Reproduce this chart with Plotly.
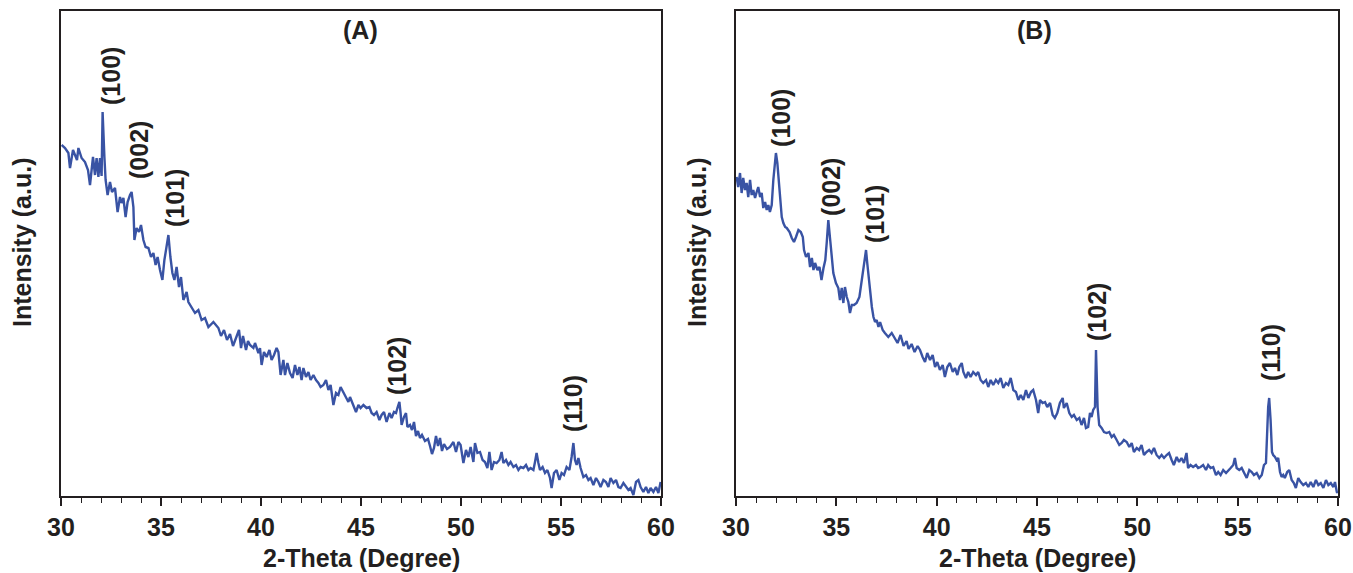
import plotly.graph_objects as go

# ---------------- Data (intensity in arbitrary units) ----------------
A_theta = [30.03, 30.2, 30.37, 30.45, 30.6, 30.8, 30.87, 31.03, 31.2, 31.35, 31.45, 31.6, 31.7, 31.78, 31.87, 31.95,
           32.03, 32.08, 32.17, 32.23, 32.33, 32.45, 32.55, 32.7, 32.83, 32.95, 33.03, 33.12, 33.23, 33.33, 33.45,
           33.53, 33.62, 33.67, 33.78, 33.9, 34.0, 34.12, 34.23, 34.37, 34.5, 34.62, 34.73, 34.83, 34.95, 35.07,
           35.17, 35.27, 35.37, 35.47, 35.57, 35.67, 35.78, 35.9, 36.0, 36.12, 36.28, 36.37, 36.53, 36.7, 36.87,
           37.03, 37.2, 37.37, 37.62, 37.87, 38.0, 38.15, 38.3, 38.45, 38.6, 38.75, 38.9, 39.0, 39.1, 39.25, 39.35,
           39.45, 39.62, 39.7, 39.87, 39.95, 40.03, 40.15, 40.28, 40.42, 40.53, 40.65, 40.78, 40.87, 40.98, 41.12,
           41.2, 41.32, 41.45, 41.58, 41.7, 41.82, 41.92, 42.03, 42.12, 42.25, 42.37, 42.48, 42.62, 42.75, 42.87,
           42.98, 43.12, 43.25, 43.37, 43.48, 43.62, 43.75, 43.87, 43.98, 44.12, 44.25, 44.37, 44.45, 44.62, 44.75,
           44.87, 44.98, 45.12, 45.28, 45.42, 45.53, 45.65, 45.78, 45.92, 46.03, 46.15, 46.28, 46.42, 46.53, 46.65,
           46.75, 46.82, 46.92, 46.98, 47.03, 47.15, 47.25, 47.32, 47.45, 47.55, 47.65, 47.75, 47.85, 47.95, 48.05,
           48.2, 48.35, 48.45, 48.55, 48.65, 48.75, 48.85, 48.95, 49.05, 49.15, 49.3, 49.45, 49.62, 49.75, 49.87,
           49.98, 50.12, 50.25, 50.37, 50.48, 50.62, 50.7, 50.82, 50.95, 51.08, 51.2, 51.32, 51.42, 51.53, 51.65,
           51.78, 51.92, 52.03, 52.12, 52.25, 52.37, 52.48, 52.62, 52.75, 52.87, 52.98, 53.12, 53.25, 53.37, 53.48,
           53.62, 53.7, 53.78, 53.87, 53.95, 54.08, 54.2, 54.32, 54.45, 54.53, 54.65, 54.78, 54.92, 55.03, 55.15,
           55.28, 55.42, 55.53, 55.62, 55.7, 55.78, 55.87, 55.98, 56.12, 56.25, 56.37, 56.48, 56.62, 56.75, 56.87,
           56.98, 57.12, 57.25, 57.37, 57.48, 57.62, 57.75, 57.87, 57.98, 58.12, 58.25, 58.37, 58.48, 58.62, 58.75,
           58.87, 58.98, 59.12, 59.25, 59.37, 59.48, 59.62, 59.75, 59.87, 59.98]
A_int = [351, 348, 343, 328, 346, 336, 348, 338, 334, 326, 311, 339, 321, 338, 319, 338,
         320, 384, 339, 316, 301, 314, 304, 308, 284, 299, 293, 298, 279, 294, 301,
         304, 289, 256, 268, 264, 271, 256, 249, 248, 239, 243, 231, 239, 226, 216,
         236, 249, 261, 239, 223, 216, 229, 209, 219, 196, 204, 194, 189, 183, 186,
         176, 178, 169, 174, 168, 160, 166, 156, 162, 150, 158, 166, 148, 160, 146, 155,
         151, 148, 153, 143, 148, 131, 144, 139, 146, 136, 141, 148, 144, 121, 136,
         121, 133, 123, 118, 131, 121, 129, 116, 128, 119, 124, 116, 121, 116, 113,
         109, 111, 116, 106, 111, 91, 103, 101, 109, 103, 98, 94, 99, 91, 84,
         91, 88, 91, 88, 89, 83, 81, 84, 76, 81, 84, 74, 83, 78, 84,
         83, 88, 94, 83, 71, 79, 83, 69, 71, 66, 74, 60, 65, 58, 61,
         55, 57, 50, 42, 48, 60, 50, 58, 45, 52, 47, 49, 54, 44, 54,
         51, 33, 46, 39, 49, 34, 53, 43, 44, 36, 34, 28, 44, 26, 34,
         33, 36, 44, 33, 36, 31, 34, 29, 31, 26, 29, 28, 31, 26, 28,
         26, 34, 43, 33, 26, 29, 23, 26, 18, 8, 23, 26, 16, 23, 21,
         29, 26, 39, 53, 36, 31, 38, 28, 19, 21, 16, 18, 11, 18, 14,
         9, 16, 14, 9, 18, 13, 16, 9, 8, 13, 9, 6, 8, 1, 14,
         16, 9, 4, 9, 3, 8, 4, 9, 3, 14]

B_theta = [30.03, 30.11, 30.2, 30.28, 30.36, 30.45, 30.53, 30.61, 30.7, 30.78, 30.86, 30.95, 31.03, 31.11, 31.2,
           31.28, 31.36, 31.45, 31.53, 31.61, 31.69, 31.78, 31.86, 31.94, 31.99, 32.06, 32.13, 32.19, 32.28, 32.36,
           32.45, 32.53, 32.67, 32.78, 32.89, 32.99, 33.11, 33.23, 33.33, 33.39, 33.49, 33.61, 33.69, 33.78, 33.86,
           33.94, 34.06, 34.16, 34.26, 34.36, 34.45, 34.52, 34.6, 34.68, 34.77, 34.85, 34.98, 35.1, 35.18, 35.27,
           35.35, 35.43, 35.52, 35.6, 35.68, 35.77, 35.88, 36.01, 36.15, 36.26, 36.38, 36.48, 36.54, 36.64, 36.77,
           36.85, 36.93, 37.01, 37.1, 37.18, 37.31, 37.42, 37.59, 37.76, 37.92, 38.05, 38.2, 38.35, 38.5, 38.6,
           38.75, 38.9, 39.05, 39.17, 39.3, 39.42, 39.53, 39.67, 39.8, 39.92, 40.03, 40.16, 40.3, 40.41, 40.53,
           40.66, 40.8, 40.91, 41.03, 41.13, 41.25, 41.33, 41.46, 41.57, 41.69, 41.82, 41.96, 42.07, 42.19, 42.32,
           42.46, 42.57, 42.69, 42.82, 42.95, 43.07, 43.19, 43.32, 43.45, 43.57, 43.69, 43.82, 43.95, 44.07, 44.19,
           44.32, 44.45, 44.57, 44.7, 44.81, 44.95, 45.06, 45.15, 45.28, 45.4, 45.51, 45.65, 45.78, 45.89, 46.01,
           46.14, 46.28, 46.34, 46.48, 46.61, 46.73, 46.84, 46.98, 47.11, 47.22, 47.34, 47.44, 47.55, 47.64, 47.72,
           47.8, 47.89, 47.94, 48.02, 48.1, 48.22, 48.34, 48.47, 48.6, 48.72, 48.83, 48.97, 49.1, 49.22, 49.33,
           49.47, 49.6, 49.72, 49.83, 49.97, 50.09, 50.21, 50.33, 50.46, 50.59, 50.71, 50.83, 50.96, 51.09, 51.21,
           51.33, 51.46, 51.58, 51.71, 51.82, 51.96, 52.08, 52.2, 52.32, 52.45, 52.53, 52.65, 52.78, 52.92, 53.03,
           53.15, 53.28, 53.42, 53.53, 53.65, 53.78, 53.92, 54.03, 54.15, 54.28, 54.42, 54.53, 54.65, 54.78, 54.86,
           54.95, 55.08, 55.2, 55.31, 55.45, 55.58, 55.7, 55.81, 55.95, 56.08, 56.2, 56.31, 56.41, 56.52, 56.57,
           56.64, 56.71, 56.77, 56.86, 56.94, 57.02, 57.11, 57.19, 57.27, 57.35, 57.47, 57.57, 57.69, 57.8, 57.9,
           58.02, 58.14, 58.27, 58.4, 58.52, 58.64, 58.77, 58.9, 59.02, 59.14, 59.27, 59.4, 59.52, 59.64, 59.77,
           59.85, 59.94, 59.99]
B_int = [319, 309, 323, 303, 318, 306, 313, 299, 316, 301, 306, 298, 304, 309, 299,
         303, 288, 294, 286, 291, 284, 291, 316, 336, 343, 333, 313, 296, 279, 273,
         269, 268, 264, 258, 254, 259, 266, 264, 259, 246, 239, 243, 229, 238, 226,
         233, 226, 229, 216, 228, 236, 253, 276, 259, 236, 223, 213, 208, 196, 208,
         193, 209, 199, 194, 183, 191, 191, 193, 199, 216, 233, 246, 233, 213, 189,
         179, 174, 176, 169, 174, 166, 163, 159, 163, 158, 153, 161, 150, 155, 147,
         152, 144, 150, 146, 139, 134, 143, 136, 141, 129, 134, 126, 131, 119, 129,
         133, 124, 128, 121, 129, 133, 124, 118, 124, 119, 124, 121, 124, 116, 113,
         116, 109, 116, 111, 116, 113, 118, 108, 113, 111, 118, 106, 104, 96, 101,
         96, 106, 98, 104, 106, 96, 83, 96, 93, 94, 89, 93, 81, 78, 83,
         93, 98, 88, 93, 83, 79, 81, 76, 78, 71, 78, 68, 69, 83, 79,
         86, 89, 146, 89, 71, 68, 64, 63, 64, 59, 61, 56, 51, 53, 56,
         54, 49, 53, 44, 48, 46, 51, 41, 44, 46, 43, 48, 41, 38, 41,
         38, 41, 43, 36, 31, 39, 34, 38, 33, 43, 28, 31, 29, 31, 28,
         29, 31, 26, 31, 28, 29, 21, 24, 21, 26, 23, 26, 28, 31, 38,
         28, 26, 28, 24, 18, 26, 24, 21, 23, 18, 21, 31, 33, 89, 98,
         76, 44, 41, 39, 36, 38, 24, 19, 21, 18, 24, 26, 16, 13, 8,
         18, 14, 11, 13, 9, 14, 9, 16, 11, 13, 8, 16, 11, 13, 9,
         14, 4, 3]

peak_labels = ["(100)", "(002)", "(101)", "(102)", "(110)"]
A_label_x = [32.5, 33.9, 35.7, 46.8, 55.6]
A_label_y = [420, 346, 298, 130, 92]
B_label_x = [32.24, 34.73, 36.93, 47.99, 56.66]
B_label_y = [378, 309, 282, 184, 144]

panel_titles = ["(A)", "(B)"]
x_ticks = [30, 35, 40, 45, 50, 55, 60]
x_title = "2-Theta (Degree)"
y_title = "Intensity (a.u.)"

# ---------------- Style ----------------
W, H = 1353, 573
LINE = "#3953a4"
INK = "#231f20"
FONT = "Liberation Sans, Arial, Helvetica, sans-serif"
FS = 25

fig = go.Figure()
fig.add_trace(go.Scatter(x=A_theta, y=A_int, mode="lines", line=dict(color=LINE, width=2.4),
                         xaxis="x", yaxis="y", showlegend=False))
fig.add_trace(go.Scatter(x=B_theta, y=B_int, mode="lines", line=dict(color=LINE, width=2.4),
                         xaxis="x2", yaxis="y2", showlegend=False))

ydom = [(H - 496) / H, (H - 11) / H]

def xax(domain, anchor):
    return dict(domain=domain, anchor=anchor, range=[30, 60], tickvals=x_ticks,
                ticks="outside", ticklen=8, tickwidth=1.5, tickcolor=INK,
                showline=True, linecolor=INK, linewidth=1.5, mirror=True,
                showgrid=False, zeroline=False,
                tickfont=dict(family=FONT, size=FS, color=INK, weight="bold"),
                minor=dict(ticks="outside", dtick=1, ticklen=5, tickwidth=1.2, tickcolor=INK, showgrid=False),
                automargin=False)

def yax(anchor):
    return dict(domain=ydom, anchor=anchor, range=[0, 485], showticklabels=False, ticks="",
                showline=True, linecolor=INK, linewidth=1.5, mirror=True,
                showgrid=False, zeroline=False, automargin=False)

fig.update_layout(
    width=W, height=H,
    margin=dict(l=0, r=0, t=0, b=0),
    paper_bgcolor="white", plot_bgcolor="white",
    xaxis=xax([61 / W, 661 / W], "y"),
    yaxis=yax("x"),
    xaxis2=xax([736 / W, 1338 / W], "y2"),
    yaxis2=yax("x2"),
)

anns = []
lab_font = dict(family=FONT, size=FS, color=INK, weight="bold")
for txt, xv, yv in zip(peak_labels, A_label_x, A_label_y):
    anns.append(dict(text=txt, x=xv, y=yv, xref="x", yref="y", showarrow=False, textangle=-90,
                     xanchor="center", yanchor="middle", font=lab_font))
for txt, xv, yv in zip(peak_labels, B_label_x, B_label_y):
    anns.append(dict(text=txt, x=xv, y=yv, xref="x2", yref="y2", showarrow=False, textangle=-90,
                     xanchor="center", yanchor="middle", font=lab_font))
anns.append(dict(text=panel_titles[0], x=44.95, y=466, xref="x", yref="y", showarrow=False,
                 xanchor="center", yanchor="middle", font=lab_font))
anns.append(dict(text=panel_titles[1], x=44.9, y=466, xref="x2", yref="y2", showarrow=False,
                 xanchor="center", yanchor="middle", font=lab_font))
# axis titles
for xr in ["x domain", "x2 domain"]:
    anns.append(dict(text=x_title, x=0.5, y=(H - 558) / H, xref=xr, yref="paper", showarrow=False,
                     xanchor="center", yanchor="middle", font=lab_font))
for xp in [22 / W, 697 / W]:
    anns.append(dict(text=y_title, x=xp, y=(H - 243) / H, xref="paper", yref="paper", showarrow=False,
                     textangle=-90, xanchor="center", yanchor="middle", font=lab_font))
fig.update_layout(annotations=anns)

fig.write_html("out.html")
